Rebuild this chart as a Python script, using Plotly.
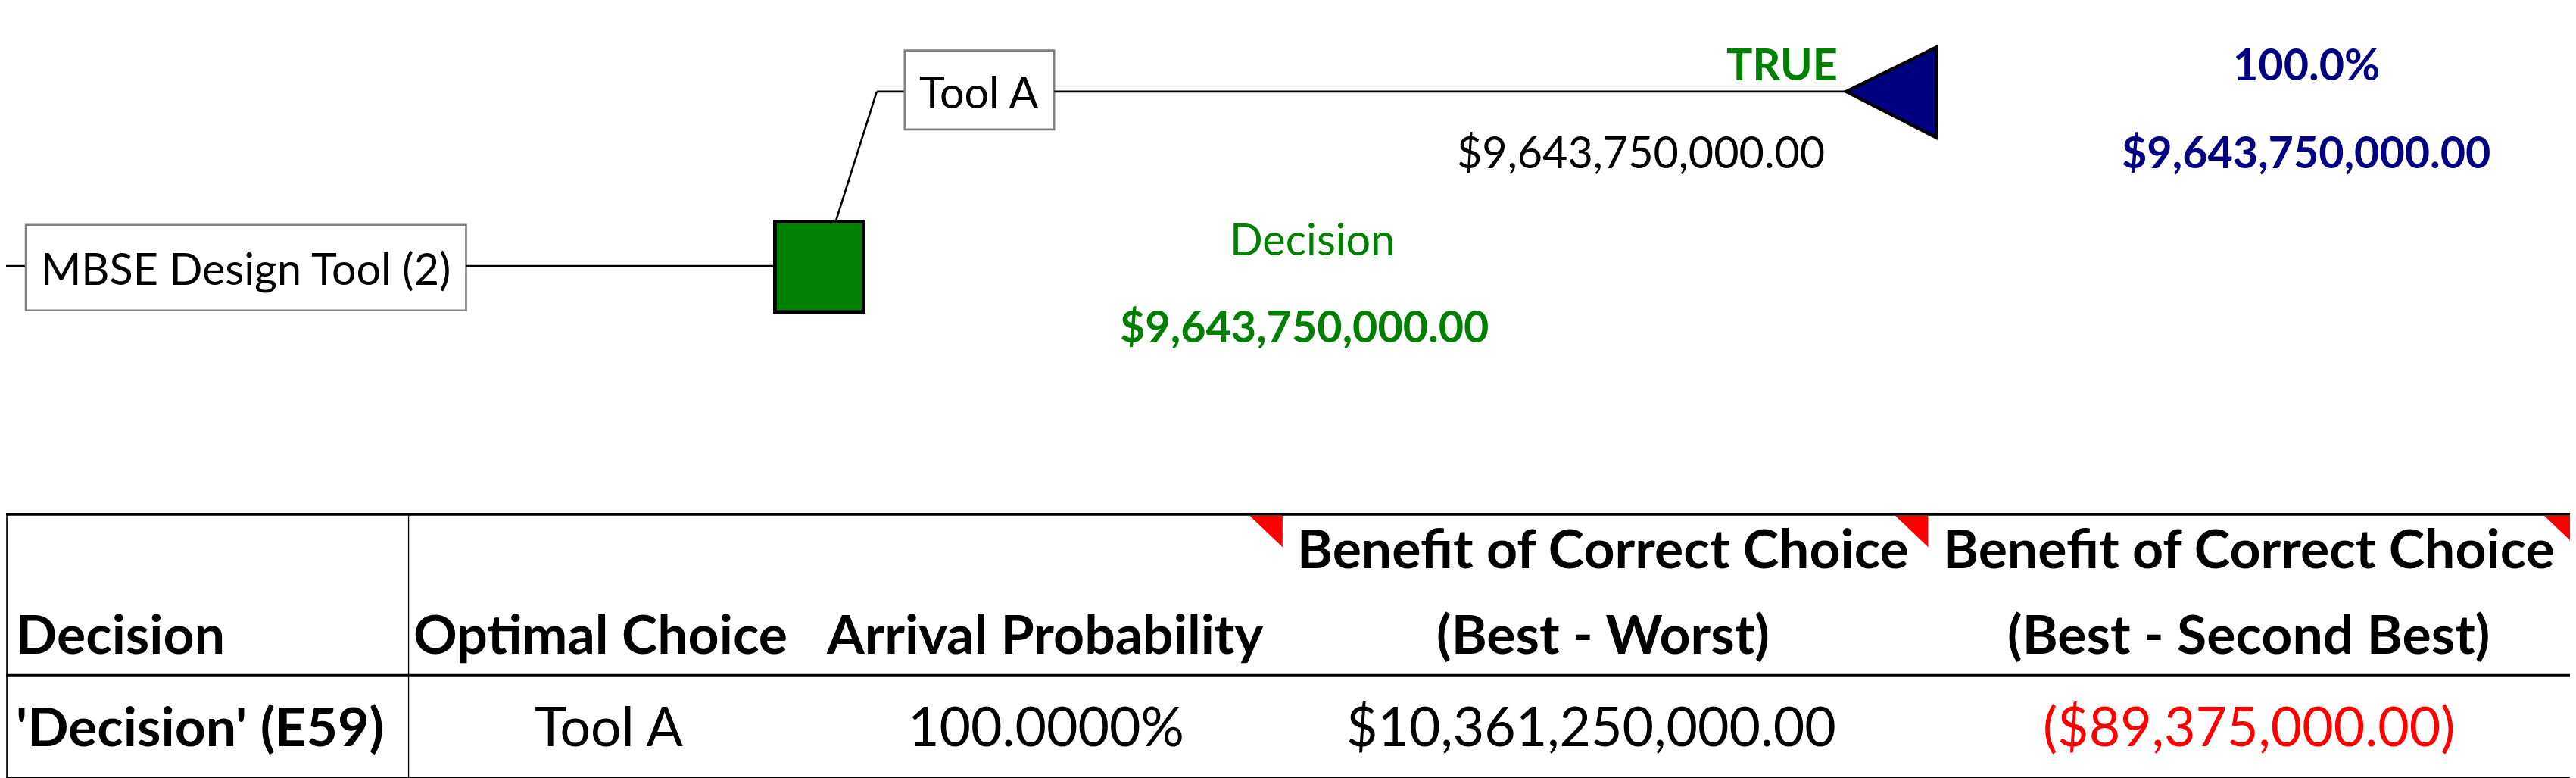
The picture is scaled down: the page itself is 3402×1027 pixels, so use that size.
import plotly.graph_objects as go

W, H = 1568, 473  # drawing units (reference scaled), mapped onto 3402x1027
S = 3402 / W
FONT = "Lato, Open Sans, sans-serif"

root_label = "MBSE Design Tool (2)"
branch_label = "Tool A"
branch_flag = "TRUE"
branch_value = "$9,643,750,000.00"
end_prob = "100.0%"
end_value = "$9,643,750,000.00"
node_name = "Decision"
node_value = "$9,643,750,000.00"

table_headers = ["Decision", "Optimal Choice", "Arrival Probability",
                 "Benefit of Correct Choice",
                 "Benefit of Correct Choice"]
table_sub = ["(Best - Worst)", "(Best - Second Best)"]
table_row = ["'Decision' (E59)", "Tool A", "100.0000%", "$10,361,250,000.00", "($89,375,000.00)"]

GREEN = "#008000"; NAVY = "#000080"; RED = "#ff0000"

fig = go.Figure()
shapes = []
ann = []

def line(x0, y0, x1, y1, w=1.2, c="black"):
    shapes.append(dict(type="line", x0=x0, y0=y0, x1=x1, y1=y1, line=dict(color=c, width=w * S)))

def rect(x0, y0, x1, y1, fill="white", lc="#808080", w=1.2):
    shapes.append(dict(type="rect", x0=x0, y0=y0, x1=x1, y1=y1, fillcolor=fill, line=dict(color=lc, width=w * S)))

def text(x, y, t, size, color="black", bold=False, anchor="center"):
    if bold:
        t = "<b>" + t + "</b>"
    ann.append(dict(x=x, y=y, text=t, showarrow=False, xanchor=anchor, yanchor="middle",
                    font=dict(family=FONT, size=size * S, color=color), align="center"))

TF = 26.5
# tree
line(0, 158, 12, 158)
rect(12, 133, 280, 185)
text(146, 159, root_label, TF)
line(280, 158, 468, 158)
rect(468, 131, 522, 186, fill=GREEN, lc="black", w=2.2)
line(505, 131, 530, 52)
line(530, 52, 547, 52)
rect(547, 27, 638, 75)
text(592, 52, branch_label, TF)
line(638, 52, 1120, 52)
shapes.append(dict(type="path", path="M 1120 52 L 1175 25 L 1175 80 Z", fillcolor=NAVY,
                   line=dict(color="black", width=2 * S)))
text(1116, 35, branch_flag, TF, GREEN, True, "right")
text(995, 88, branch_value, TF)
text(1400, 35, end_prob, TF, NAVY, True)
text(1400, 88, end_value, TF, NAVY, True)
text(795, 141, node_name, TF, GREEN)
text(790, 194, node_value, TF, GREEN, True)

# table
line(0, 309, 1566, 309, 1.8)
line(0, 407, 1566, 407, 1.8)
line(0, 470, 1566, 470, 2.4)
line(0.5, 309, 0.5, 470, 0.8)
line(245, 309, 245, 470, 0.6)
line(1565, 309, 1565, 470, 0.8)
for xr in (777, 1170, 1565):
    shapes.append(dict(type="path", path=f"M {xr-20} 310 L {xr} 310 L {xr} 329 Z", fillcolor=RED, line=dict(width=0)))
TS = 33
text(5, 381, table_headers[0], TS, bold=True, anchor="left")
text(362, 381, table_headers[1], TS, bold=True)
text(632, 381, table_headers[2], TS, bold=True)
text(972, 329, table_headers[3], TS, bold=True)
text(1365, 329, table_headers[4], TS, bold=True)
text(972, 381, table_sub[0], TS, bold=True)
text(1365, 381, table_sub[1], TS, bold=True)
text(5, 437, table_row[0], TS, bold=True, anchor="left")
text(367, 437, table_row[1], TS)
text(633, 437, table_row[2], TS)
text(965, 437, table_row[3], TS)
text(1365, 437, table_row[4], TS, RED)

fig.update_layout(width=3402, height=1027, margin=dict(l=0, r=0, t=0, b=0),
                  plot_bgcolor="white", paper_bgcolor="white", shapes=shapes, annotations=ann,
                  xaxis=dict(range=[0, W], visible=False, fixedrange=True),
                  yaxis=dict(range=[H, 0], visible=False, fixedrange=True),
                  showlegend=False)
fig.write_html("out.html")
